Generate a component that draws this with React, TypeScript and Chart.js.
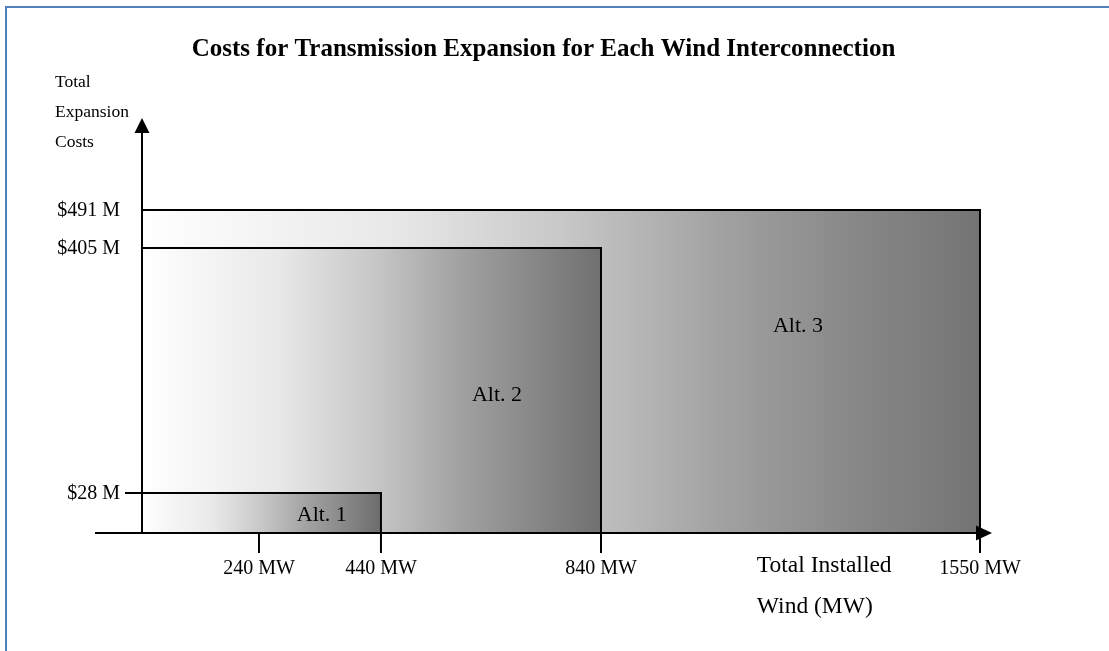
import React, { useEffect, useRef } from 'react';
import { Chart, registerables, LinearScale } from 'chart.js';

// ---------- data ----------
const alternatives = ['Alt. 1', 'Alt. 2', 'Alt. 3'];
const windMW = [440, 840, 1550];
const costM = [28, 405, 491];
const xTickValues = [240, 440, 840, 1550];
const yTickValues = [491, 405, 28];
const yTickMarked = [false, false, true];
const chartTitle = 'Costs for Transmission Expansion for Each Wind Interconnection';
const yAxisTitle = ['Total', 'Expansion', 'Costs'];
const xAxisTitle = ['Total Installed', 'Wind (MW)'];
// label anchors, in data units (MW, $M)
const altLabelX = [343, 651, 1209];
const altLabelY = [12.6, 179, 285];
const xAxisTitleAt = 1132;

// hand-drawn (non-linear) axes: value -> fraction of axis length
const xKnotValues = [-87, 0, 240, 440, 840, 1550, 1572];
const xKnotFractions = [0, 0.0524, 0.1828, 0.3188, 0.5641, 0.9866, 1];
const yKnotValues = [0, 28, 405, 491, 600];
const yKnotFractions = [0, 0.0964, 0.6867, 0.7783, 1];

// ---------- styles ----------
const SERIF = '"Liberation Serif", "Times New Roman", serif';
const gradientStops = [0, 0.3, 0.5, 0.7, 0.85];
const gradientGrays = ['#ffffff', '#e8e8e8', '#c8c8c8', '#a0a0a0', '#888888'];
const endGrays = ['#6c6c6c', '#707070', '#747474'];

const KNOTS: Record<string, { values: number[]; fractions: number[] }> = {
  x: { values: xKnotValues, fractions: xKnotFractions },
  y: { values: yKnotValues, fractions: yKnotFractions },
};

function interp(v: number, from: number[], to: number[]) {
  const n = from.length;
  let i = 1;
  while (i < n - 1 && v > from[i]) i++;
  const a = from[i - 1];
  const b = from[i];
  const t = (v - a) / (b - a);
  return to[i - 1] + t * (to[i] - to[i - 1]);
}

class PiecewiseScale extends LinearScale {
  static id = 'piecewise';
  static defaults = (LinearScale as any).defaults;
  getPixelForValue(value: any) {
    if (value === null || value === undefined || isNaN(value)) return NaN;
    const k = KNOTS[(this as any).id];
    return (this as any).getPixelForDecimal(interp(value, k.values, k.fractions));
  }
  getValueForPixel(pixel: number) {
    const k = KNOTS[(this as any).id];
    return interp((this as any).getDecimalForPixel(pixel), k.fractions, k.values);
  }
}

Chart.register(...registerables, PiecewiseScale as any);

function makeGradient(chart: any, i: number) {
  if (!chart.chartArea) return 'rgba(0,0,0,0)';
  const xs = chart.scales.x;
  const x0 = xs.getPixelForValue(0);
  const x1 = xs.getPixelForValue(windMW[i]);
  const g = chart.ctx.createLinearGradient(x0, 0, x1, 0);
  gradientStops.forEach((s, k) => g.addColorStop(s, gradientGrays[k]));
  g.addColorStop(1, endGrays[i]);
  return g;
}

const diagramPlugin = {
  id: 'diagram',
  beforeDraw(chart: any) {
    const { ctx } = chart;
    ctx.save();
    ctx.strokeStyle = '#4f81bd';
    ctx.lineWidth = 2;
    ctx.beginPath();
    ctx.moveTo(6, chart.height + 10);
    ctx.lineTo(6, 7);
    ctx.lineTo(chart.width + 10, 7);
    ctx.stroke();
    ctx.restore();
  },
  afterDatasetsDraw(chart: any) {
    const { ctx, chartArea } = chart;
    const xs = chart.scales.x;
    const ys = chart.scales.y;
    const ax = xs.getPixelForValue(0);
    const ay = ys.getPixelForValue(0);
    const { left, right, top } = chartArea;
    ctx.save();
    ctx.strokeStyle = '#000';
    ctx.fillStyle = '#000';
    ctx.lineWidth = 2;

    // y axis + arrow
    ctx.beginPath();
    ctx.moveTo(ax, ay + 1);
    ctx.lineTo(ax, top + 12);
    ctx.stroke();
    ctx.beginPath();
    ctx.moveTo(ax, top);
    ctx.lineTo(ax - 7.5, top + 15);
    ctx.lineTo(ax + 7.5, top + 15);
    ctx.closePath();
    ctx.fill();

    // x axis + arrow
    ctx.beginPath();
    ctx.moveTo(left, ay);
    ctx.lineTo(right - 12, ay);
    ctx.stroke();
    ctx.beginPath();
    ctx.moveTo(right, ay);
    ctx.lineTo(right - 16, ay - 7.5);
    ctx.lineTo(right - 16, ay + 7.5);
    ctx.closePath();
    ctx.fill();

    // x ticks
    ctx.font = `20px ${SERIF}`;
    ctx.textAlign = 'center';
    ctx.textBaseline = 'middle';
    xTickValues.forEach((v) => {
      const px = xs.getPixelForValue(v);
      ctx.beginPath();
      ctx.moveTo(px, ay);
      ctx.lineTo(px, ay + 20);
      ctx.stroke();
      ctx.fillText(`${v} MW`, px, ay + 36);
    });

    // y ticks
    ctx.textAlign = 'right';
    yTickValues.forEach((v, i) => {
      const py = ys.getPixelForValue(v);
      if (yTickMarked[i]) {
        ctx.beginPath();
        ctx.moveTo(ax - 17, py);
        ctx.lineTo(ax, py);
        ctx.stroke();
      }
      ctx.fillText(`$${v} M`, ax - 22, py + 1);
    });

    // y axis title
    ctx.textAlign = 'left';
    ctx.font = `17.5px ${SERIF}`;
    yAxisTitle.forEach((t, i) => {
      ctx.fillText(t, ax - 87, top - 36 + i * 30);
    });

    // x axis title
    ctx.font = `23.5px ${SERIF}`;
    const tx = xs.getPixelForValue(xAxisTitleAt);
    xAxisTitle.forEach((t, i) => {
      ctx.fillText(t, tx, ay + 33 + i * 41);
    });

    // alternative labels
    ctx.font = `22px ${SERIF}`;
    ctx.textAlign = 'center';
    alternatives.forEach((t, i) => {
      ctx.fillText(t, xs.getPixelForValue(altLabelX[i]), ys.getPixelForValue(altLabelY[i]));
    });
    ctx.restore();
  },
};

export default function App() {
  const canvasRef = useRef<HTMLCanvasElement | null>(null);

  useEffect(() => {
    const canvas = canvasRef.current;
    if (!canvas) return;
    const datasets = alternatives.map((name, i) => ({
      label: name,
      data: [
        { x: 0, y: 0 },
        { x: 0, y: costM[i] },
        { x: windMW[i], y: costM[i] },
        { x: windMW[i], y: 0 },
      ],
      showLine: true,
      fill: 'origin',
      tension: 0,
      borderColor: '#000000',
      borderWidth: 2,
      pointRadius: 0,
      pointHoverRadius: 0,
      order: i + 1,
      backgroundColor: (c: any) => makeGradient(c.chart, i),
    }));

    const chart = new Chart(canvas, {
      type: 'scatter',
      data: { datasets } as any,
      options: {
        responsive: false,
        animation: false,
        events: [],
        layout: { padding: { left: 95, right: 117, top: 0, bottom: 118 } },
        plugins: {
          legend: { display: false },
          tooltip: { enabled: false },
          title: {
            display: true,
            text: chartTitle,
            color: '#000',
            font: { family: SERIF, size: 25, weight: 'bold' },
            padding: { top: 35, bottom: 53 },
          },
        },
        scales: {
          x: { type: 'piecewise', min: xKnotValues[0], max: xKnotValues[xKnotValues.length - 1], display: false },
          y: { type: 'piecewise', min: yKnotValues[0], max: yKnotValues[yKnotValues.length - 1], display: false },
        } as any,
      },
      plugins: [diagramPlugin as any],
    });
    return () => chart.destroy();
  }, []);

  return (
    <div style={{ position: 'absolute', left: 0, top: 0, width: 1109, height: 651, background: '#fff' }}>
      <canvas ref={canvasRef} width={1109} height={651} />
    </div>
  );
}
